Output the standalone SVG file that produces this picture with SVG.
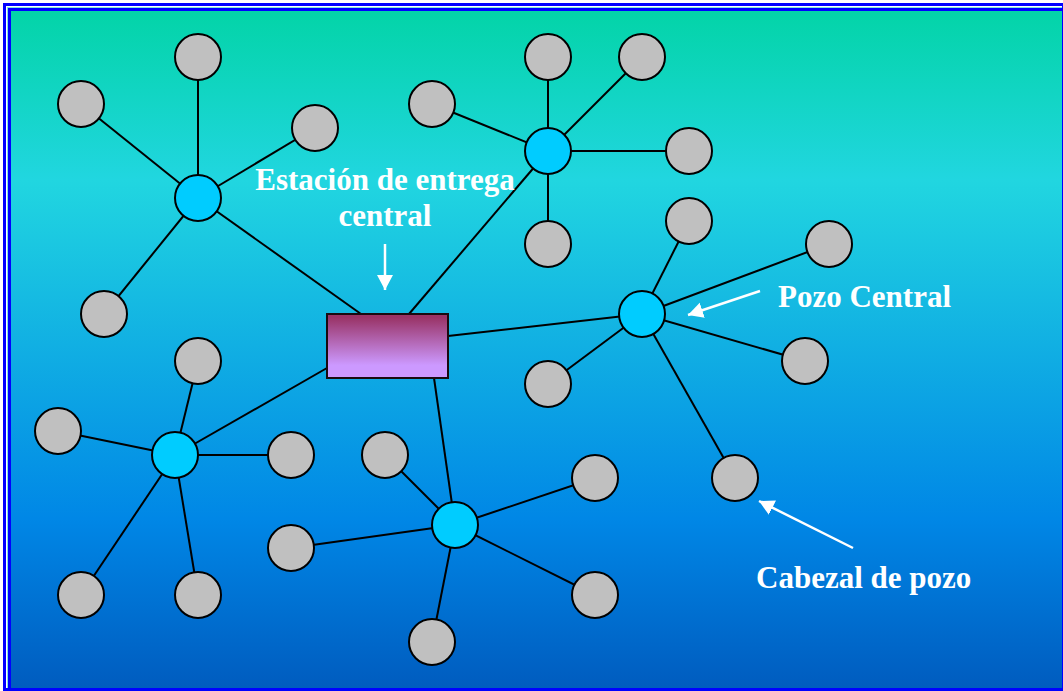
<svg xmlns="http://www.w3.org/2000/svg" width="1063" height="691" viewBox="0 0 1063 691">
<defs>
<linearGradient id="ocean" x1="0" y1="0" x2="0" y2="1">
<stop offset="0" stop-color="#03D4A8"/>
<stop offset="0.25" stop-color="#21D6E0"/>
<stop offset="0.75" stop-color="#0087E6"/>
<stop offset="1" stop-color="#005CBF"/>
</linearGradient>
<linearGradient id="box" x1="0" y1="0" x2="0" y2="1">
<stop offset="0.05" stop-color="#993366"/>
<stop offset="0.8" stop-color="#CC99FF"/>
</linearGradient>
<marker id="ah" markerUnits="userSpaceOnUse" markerWidth="20" markerHeight="20" refX="15" refY="8" orient="auto">
<path d="M0,0 L15,8 L0,16 z" fill="#FFFFFF"/>
</marker>
<style>
.conn line{stroke:#000;stroke-width:2}
.leaf{fill:#C0C0C0;stroke:#000;stroke-width:2}
.hub{fill:#00CCFF;stroke:#000;stroke-width:2}
.lbl{font-family:"Liberation Serif","Times New Roman",serif;font-weight:bold;font-size:31px;fill:#FFFFFF}
.arr{stroke:#FFFFFF;stroke-width:2.5;fill:none;marker-end:url(#ah)}
</style>
</defs>
<rect x="0" y="0" width="1063" height="691" fill="#FFFFFF"/>
<rect x="3" y="3" width="1060" height="688" fill="#0000FF"/>
<rect x="6" y="6" width="1056" height="682" fill="#FFFFFF"/>
<rect x="7" y="7" width="1055" height="681" fill="#80E8E0"/>
<rect x="8" y="8" width="1054" height="680" fill="#0000FF"/>
<rect x="11" y="11" width="1051" height="677" fill="url(#ocean)"/>

<g id="connectors" class="conn">
<line x1="198" y1="198" x2="198" y2="57"/>
<line x1="198" y1="198" x2="81" y2="104"/>
<line x1="198" y1="198" x2="315" y2="128"/>
<line x1="198" y1="198" x2="104" y2="314"/>
<line x1="198" y1="198" x2="361" y2="314"/>
<line x1="548" y1="151" x2="548" y2="57"/>
<line x1="548" y1="151" x2="642" y2="57"/>
<line x1="548" y1="151" x2="432" y2="104"/>
<line x1="548" y1="151" x2="689" y2="151"/>
<line x1="548" y1="151" x2="548" y2="244"/>
<line x1="548" y1="151" x2="409" y2="314"/>
<line x1="642" y1="314" x2="689" y2="221"/>
<line x1="642" y1="314" x2="829" y2="244"/>
<line x1="642" y1="314" x2="805" y2="361"/>
<line x1="642" y1="314" x2="548" y2="384"/>
<line x1="642" y1="314" x2="735" y2="478"/>
<line x1="642" y1="314" x2="448" y2="336"/>
<line x1="175" y1="455" x2="198" y2="361"/>
<line x1="175" y1="455" x2="58" y2="431"/>
<line x1="175" y1="455" x2="291" y2="455"/>
<line x1="175" y1="455" x2="81" y2="595"/>
<line x1="175" y1="455" x2="198" y2="595"/>
<line x1="175" y1="455" x2="327" y2="368"/>
<line x1="455" y1="525" x2="385" y2="455"/>
<line x1="455" y1="525" x2="595" y2="478"/>
<line x1="455" y1="525" x2="291" y2="548"/>
<line x1="455" y1="525" x2="595" y2="595"/>
<line x1="455" y1="525" x2="432" y2="642"/>
<line x1="455" y1="525" x2="434" y2="378"/>
</g>

<g id="station"><rect x="327" y="314" width="121" height="64" fill="url(#box)" stroke="#1A0A10" stroke-width="2"/></g>

<g id="hub1"><circle class="hub" cx="198" cy="198" r="23"/></g>
<g id="hub2"><circle class="hub" cx="548" cy="151" r="23"/></g>
<g id="hub3"><circle class="hub" cx="642" cy="314" r="23"/></g>
<g id="hub4"><circle class="hub" cx="175" cy="455" r="23"/></g>
<g id="hub5"><circle class="hub" cx="455" cy="525" r="23"/></g>

<g id="w1"><circle class="leaf" cx="198" cy="57" r="23"/></g>
<g id="w2"><circle class="leaf" cx="81" cy="104" r="23"/></g>
<g id="w3"><circle class="leaf" cx="315" cy="128" r="23"/></g>
<g id="w4"><circle class="leaf" cx="104" cy="314" r="23"/></g>
<g id="w5"><circle class="leaf" cx="548" cy="57" r="23"/></g>
<g id="w6"><circle class="leaf" cx="642" cy="57" r="23"/></g>
<g id="w7"><circle class="leaf" cx="432" cy="104" r="23"/></g>
<g id="w8"><circle class="leaf" cx="689" cy="151" r="23"/></g>
<g id="w9"><circle class="leaf" cx="548" cy="244" r="23"/></g>
<g id="w10"><circle class="leaf" cx="689" cy="221" r="23"/></g>
<g id="w11"><circle class="leaf" cx="829" cy="244" r="23"/></g>
<g id="w12"><circle class="leaf" cx="805" cy="361" r="23"/></g>
<g id="w13"><circle class="leaf" cx="548" cy="384" r="23"/></g>
<g id="w14"><circle class="leaf" cx="735" cy="478" r="23"/></g>
<g id="w15"><circle class="leaf" cx="198" cy="361" r="23"/></g>
<g id="w16"><circle class="leaf" cx="58" cy="431" r="23"/></g>
<g id="w17"><circle class="leaf" cx="291" cy="455" r="23"/></g>
<g id="w18"><circle class="leaf" cx="81" cy="595" r="23"/></g>
<g id="w19"><circle class="leaf" cx="198" cy="595" r="23"/></g>
<g id="w20"><circle class="leaf" cx="385" cy="455" r="23"/></g>
<g id="w21"><circle class="leaf" cx="595" cy="478" r="23"/></g>
<g id="w22"><circle class="leaf" cx="291" cy="548" r="23"/></g>
<g id="w23"><circle class="leaf" cx="595" cy="595" r="23"/></g>
<g id="w24"><circle class="leaf" cx="432" cy="642" r="23"/></g>

<g id="label-station">
<text class="lbl" x="385" y="190" text-anchor="middle">Estación de entrega</text>
<text class="lbl" x="385" y="226" text-anchor="middle">central</text>
<line class="arr" x1="385" y1="244" x2="385" y2="290"/>
</g>
<g id="label-pozo">
<text class="lbl" x="778" y="307">Pozo Central</text>
<line class="arr" x1="760" y1="291" x2="688" y2="315"/>
</g>
<g id="label-cabezal">
<text class="lbl" x="756" y="588">Cabezal de pozo</text>
<line class="arr" x1="853" y1="548" x2="759" y2="501"/>
</g>
</svg>
